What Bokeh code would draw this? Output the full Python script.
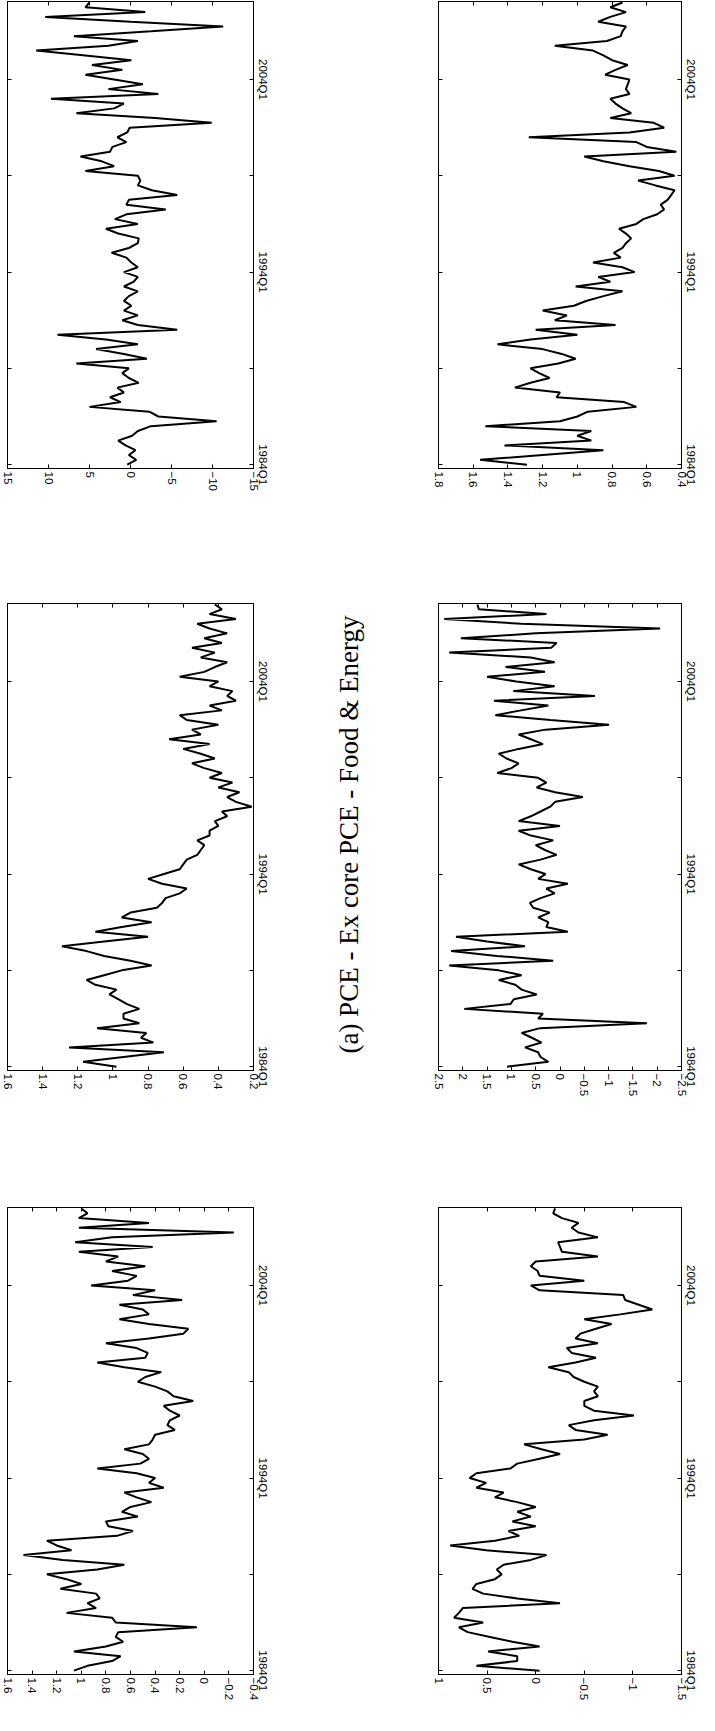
from math import pi
from bokeh.plotting import figure
from bokeh.layouts import row, column
from bokeh.models import Range1d, FixedTicker, LinearAxis, Label
from bokeh.embed import file_html
from bokeh.resources import INLINE

# ---------------- data (quarterly, 1984Q1 .. 2008Q1) ----------------
time_ticks = [0, 20, 40, 60, 80]
time_labels = ["1984Q1", "", "1994Q1", "", "2004Q1"]

series_a = [0.4, -0.7, 0.2, -0.6, 0.6, 1.5, -0.2, -0.9, -2.5, -10.5,
            -3.4, -2.3, 5.0, 1.2, 2.5, 0.8, 1.6, -1.0, 0.2, 1.0,
            0.2, 6.6, -2.0, 0.8, 4.2, -0.9, 3.0, 8.9, -5.7, -0.9,
            1.0, -0.9, 0.8, -0.1, 0.8, 0.2, -0.9, 0.8, -0.4, -0.9,
            0.8, -0.9, -0.1, 0.5, 2.3, 0.2, -0.9, -1.0, 1.5, 3.0,
            -0.9, 1.9, 0.5, -4.3, 0.5, 0.2, -5.7, -2.6, -0.9, -1.2,
            -0.9, 5.5, 2.0, 3.5, 6.1, 2.5, 2.2, 0.5, 1.6, 0.4,
            0.1, -9.9, -3.0, 6.6, 2.0, 0.8, 9.7, -3.4, 2.7, -1.5,
            2.0, 5.5, 1.0, 4.7, -0.1, 5.5, 11.5, 2.7, -0.9, 6.9,
            -2.5, -11.3, 0.0, 10.4, -1.8, 5.5, 5.0]
series_b = [1.29, 1.56, 1.20, 0.85, 1.42, 0.92, 1.00, 0.92, 1.53, 1.10,
            1.00, 0.94, 0.66, 0.73, 1.12, 1.10, 1.36, 1.27, 1.16, 1.22,
            1.27, 1.11, 1.01, 1.09, 1.20, 1.46, 1.27, 1.00, 1.24, 0.78,
            1.13, 1.06, 1.20, 1.02, 0.95, 0.85, 0.74, 1.01, 0.81, 0.88,
            0.67, 0.74, 0.91, 0.75, 0.79, 0.74, 0.72, 0.69, 0.72, 0.76,
            0.66, 0.62, 0.54, 0.50, 0.52, 0.48, 0.46, 0.44, 0.55, 0.65,
            0.44, 0.53, 0.70, 0.85, 0.96, 0.43, 0.60, 0.66, 1.28, 0.70,
            0.50, 0.56, 0.81, 0.69, 0.74, 0.78, 0.81, 0.70, 0.72, 0.71,
            0.70, 0.84, 0.78, 0.71, 0.80, 0.85, 0.91, 1.13, 0.83, 0.75,
            0.74, 0.72, 0.88, 0.81, 0.72, 0.81, 0.74]
series_c = [0.98, 1.17, 0.94, 0.71, 1.25, 0.77, 0.84, 0.81, 1.09, 0.85,
            0.94, 0.94, 0.85, 0.92, 0.97, 1.02, 0.98, 1.10, 1.15, 1.05,
            0.95, 0.78, 0.90, 1.05, 1.15, 1.29, 1.05, 0.80, 1.10, 0.95,
            0.78, 0.95, 0.90, 0.75, 0.72, 0.70, 0.62, 0.58, 0.72, 0.80,
            0.71, 0.62, 0.60, 0.58, 0.52, 0.50, 0.48, 0.52, 0.45, 0.45,
            0.40, 0.42, 0.35, 0.38, 0.21, 0.30, 0.35, 0.28, 0.40, 0.32,
            0.45, 0.38, 0.48, 0.55, 0.42, 0.50, 0.60, 0.45, 0.68, 0.50,
            0.55, 0.40, 0.58, 0.62, 0.38, 0.45, 0.30, 0.35, 0.32, 0.45,
            0.40, 0.62, 0.48, 0.42, 0.35, 0.50, 0.42, 0.55, 0.38, 0.48,
            0.35, 0.45, 0.52, 0.30, 0.45, 0.38, 0.42]
series_d = [1.09, 0.24, 0.40, 0.45, 0.72, 0.38, 0.58, 0.79, 0.41, -1.79,
            0.45, 0.35, 1.97, 1.02, 0.95, 0.48, 0.79, 0.92, 1.26, 0.79,
            1.26, 2.28, 0.14, 1.30, 2.24, 0.72, 1.50, 2.14, -0.16, 0.28,
            0.24, 0.45, 0.21, 0.55, 0.62, 0.40, 0.11, 0.28, -0.16, 0.45,
            0.30, 0.60, 0.85, 0.40, 0.07, 0.31, 0.50, 0.14, 0.60, 0.85,
            0.00, 0.85, 0.60, 0.40, 0.20, 0.10, -0.47, 0.10, 0.48, 0.28,
            0.45, 1.29, 1.00, 0.85, 1.10, 1.26, 0.85, 0.35, 0.60, 0.85,
            0.30, -1.01, 0.20, 1.33, 0.80, 0.24, 1.36, -0.72, 0.96, 0.11,
            0.90, 1.50, 0.31, 1.12, 0.11, 0.60, 2.28, 0.18, 0.07, 2.04,
            0.50, -2.06, 0.80, 2.38, 0.28, 1.67, 1.70]
series_e = [1.06, 0.95, 0.75, 0.68, 1.06, 0.80, 0.66, 0.72, 0.70, 0.06,
            0.72, 0.75, 1.12, 0.88, 0.95, 0.85, 0.88, 1.17, 1.00, 1.12,
            1.28, 0.87, 0.65, 1.15, 1.47, 1.08, 1.20, 1.28, 0.71, 0.58,
            0.78, 0.80, 0.54, 0.67, 0.60, 0.43, 0.55, 0.65, 0.33, 0.45,
            0.40, 0.55, 0.87, 0.52, 0.45, 0.50, 0.65, 0.45, 0.42, 0.40,
            0.24, 0.30, 0.28, 0.20, 0.28, 0.33, 0.09, 0.25, 0.30, 0.40,
            0.54, 0.48, 0.35, 0.65, 0.87, 0.48, 0.46, 0.55, 0.80, 0.45,
            0.17, 0.13, 0.45, 0.69, 0.45, 0.50, 0.69, 0.18, 0.58, 0.40,
            0.92, 0.62, 0.55, 0.75, 0.48, 0.80, 0.70, 1.02, 0.42, 1.05,
            0.75, -0.24, 1.02, 0.45, 1.02, 0.95, 1.00]
series_f = [-0.04, 0.61, 0.19, 0.19, 0.49, -0.04, 0.24, 0.47, 0.70, 0.79,
            0.54, 0.84, 0.79, 0.75, -0.25, 0.19, 0.54, 0.65, 0.61, 0.42,
            0.35, 0.40, 0.33, 0.05, -0.11, 0.51, 0.88, 0.42, 0.17, 0.28,
            0.00, 0.24, 0.05, 0.19, 0.00, 0.19, 0.42, 0.33, 0.61, 0.51,
            0.68, 0.61, 0.26, 0.19, -0.04, -0.25, -0.06, 0.12, -0.50, -0.74,
            -0.41, -0.34, -0.60, -1.01, -0.60, -0.50, -0.50, -0.64, -0.60, -0.64,
            -0.50, -0.39, -0.34, -0.13, -0.41, -0.62, -0.37, -0.32, -0.64, -0.41,
            -0.46, -0.62, -0.78, -0.50, -0.87, -1.20, -1.06, -0.92, -0.90, -0.04,
            0.05, -0.50, -0.04, -0.02, 0.05, 0.00, -0.64, -0.27, -0.25, -0.23,
            -0.64, -0.44, -0.37, -0.44, -0.27, -0.18, -0.20]

ticks_a = [-15, -10, -5, 0, 5, 10, 15]
ticks_b = [0.4, 0.6, 0.8, 1.0, 1.2, 1.4, 1.6, 1.8]
ticks_c = [0.2, 0.4, 0.6, 0.8, 1.0, 1.2, 1.4, 1.6]
ticks_d = [-2.5, -2.0, -1.5, -1.0, -0.5, 0.0, 0.5, 1.0, 1.5, 2.0, 2.5]
ticks_e = [-0.4, -0.2, 0.0, 0.2, 0.4, 0.6, 0.8, 1.0, 1.2, 1.4, 1.6]
ticks_f = [-1.5, -1.0, -0.5, 0.0, 0.5, 1.0]

caption = "(a) PCE - Ex core PCE - Food & Energy"

# ---------------- drawing ----------------
FONT = "Liberation Sans"
FS = "11.5px"
FRAME_H = 467


def fmt(v):
    s = ("%g" % abs(v))
    return ("\u2212" + s) if v < 0 else s


def style_axis(ax, show_labels):
    ax.major_tick_in = 4
    ax.major_tick_out = 0
    ax.minor_tick_in = 0
    ax.minor_tick_out = 0
    ax.axis_line_color = "black"
    ax.major_tick_line_color = "black"
    ax.major_label_text_font = FONT
    ax.major_label_text_color = "black"
    if show_labels:
        ax.major_label_text_font_size = FS
        ax.major_label_standoff = 3
        ax.major_label_orientation = "vertical"
    else:
        ax.major_label_text_font_size = "0px"
        ax.major_label_standoff = 0


def panel(vals, ticks, lo, hi, width, height, b_left, b_right):
    t = list(range(len(vals)))
    p = figure(width=width, height=height, output_backend="svg",
               toolbar_location=None,
               x_range=Range1d(hi, lo), y_range=Range1d(-0.8, 96.2),
               x_axis_location="below", y_axis_location="right",
               min_border_left=b_left, min_border_right=b_right,
               min_border_top=1, min_border_bottom=height - 1 - FRAME_H)
    p.grid.visible = False
    p.outline_line_color = "black"
    p.outline_line_width = 1
    p.background_fill_color = "white"
    p.border_fill_color = "white"

    vticker = FixedTicker(ticks=ticks, minor_ticks=[])
    tticker = FixedTicker(ticks=time_ticks, minor_ticks=[])
    voverr = {v: fmt(v) for v in ticks}
    toverr = {k: s for k, s in zip(time_ticks, time_labels)}

    xa = p.xaxis[0]
    xa.ticker = vticker
    xa.major_label_overrides = voverr
    style_axis(xa, True)

    ya = p.yaxis[0]
    ya.ticker = tticker
    ya.major_label_overrides = toverr
    style_axis(ya, True)

    top = LinearAxis(ticker=vticker)
    style_axis(top, False)
    top.major_label_overrides = {v: "" for v in ticks}
    p.add_layout(top, "above")

    left = LinearAxis(ticker=tticker)
    style_axis(left, False)
    left.major_label_overrides = {v: "" for v in time_ticks}
    p.add_layout(left, "left")

    # value runs horizontally, time runs vertically (rotated page)
    p.line(x=vals, y=t, line_color="black", line_width=2)
    return p


LW, CW, RW = 300, 111, 288
H1, H2, H3 = 602, 604, 509

pa = panel(series_a, ticks_a, -15, 15, LW, H1, 7, LW - 7 - 246)
pc = panel(series_c, ticks_c, 0.2, 1.6, LW, H2, 7, LW - 7 - 246)
pe = panel(series_e, ticks_e, -0.4, 1.6, LW, H3, 7, LW - 7 - 246)
pb = panel(series_b, ticks_b, 0.4, 1.8, RW, H1, 27, RW - 27 - 244)
pd = panel(series_d, ticks_d, -2.5, 2.5, RW, H2, 27, RW - 27 - 244)
pf = panel(series_f, ticks_f, -1.5, 1.0, RW, H3, 27, RW - 27 - 244)

CH = H1 + H2 + H3
cap = figure(width=CW, height=CH, output_backend="svg", toolbar_location=None,
             x_range=Range1d(0, CW), y_range=Range1d(0, CH),
             x_axis_location=None, y_axis_location=None, min_border=0)
cap.grid.visible = False
cap.outline_line_color = None
cap.add_layout(Label(x=48, y=CH - 834, text=caption, angle=pi / 2,
                     text_align="center", text_baseline="middle",
                     text_font="Liberation Serif", text_font_size="27px",
                     text_color="black"))

layout = row(column(pa, pc, pe), cap, column(pb, pd, pf))

open("out.html", "w").write(file_html(layout, INLINE))
